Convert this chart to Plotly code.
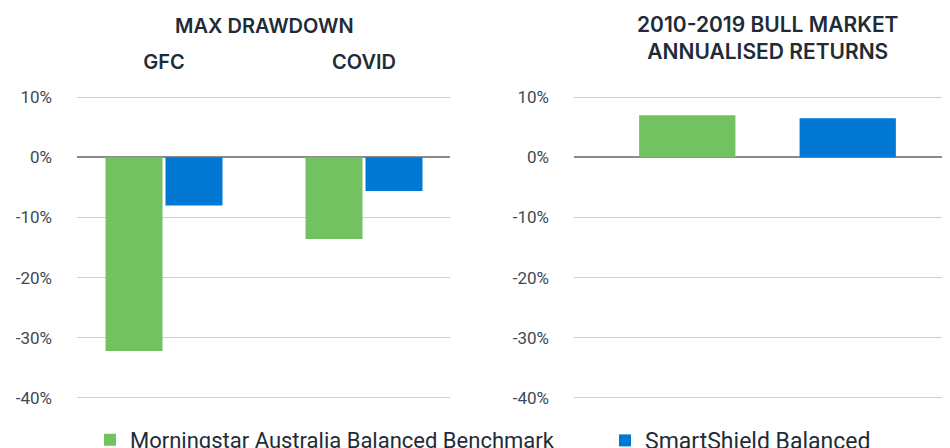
import plotly.graph_objects as go

# ---- data ----
drawdown_periods = ["GFC", "COVID"]
benchmark_drawdown = [-32.2, -13.6]
smartshield_drawdown = [-8.0, -5.6]

bull_positions = [0, 1]
bull_benchmark = [7.0]
bull_smartshield = [6.5]

series_names = ["Morningstar Australia Balanced Benchmark", "SmartShield Balanced"]
y_ticks = [10, 0, -10, -20, -30, -40]
y_tick_labels = ["10%", "0%", "-10%", "-20%", "-30%", "-40%"]

GREEN = "#74C162"
BLUE = "#0078D4"
TITLE_C = "#1f2c37"
TICK_C = "#3d4a55"

# page body has an 8px margin: figure is offset by 8px
OFF = 8
W, H = 950 - OFF, 448 - OFF
T, B = 88, 49
PH = H - T - B


def fx(xw):
    return (xw - OFF) / W


def fy(yw):
    return (H - B - (yw - OFF)) / PH


fig = go.Figure()

fig.add_trace(go.Bar(x=drawdown_periods, y=benchmark_drawdown, name=series_names[0],
                     marker=dict(color=GREEN, line=dict(width=0)), xaxis="x", yaxis="y",
                     legend="legend"))
fig.add_trace(go.Bar(x=drawdown_periods, y=smartshield_drawdown, name=series_names[1],
                     marker=dict(color=BLUE, line=dict(width=0)), xaxis="x", yaxis="y",
                     legend="legend2"))

fig.add_trace(go.Bar(x=bull_positions[:1], y=bull_benchmark, name=series_names[0], showlegend=False,
                     offsetgroup="r", width=0.6,
                     marker=dict(color=GREEN, line=dict(width=0)), xaxis="x2", yaxis="y2"))
fig.add_trace(go.Bar(x=bull_positions[1:], y=bull_smartshield, name=series_names[1], showlegend=False,
                     offsetgroup="r", width=0.6,
                     marker=dict(color=BLUE, line=dict(width=0)), xaxis="x2", yaxis="y2"))

yaxis_common = dict(
    range=[-40.2, 10.2], tickvals=y_ticks, ticktext=y_tick_labels,
    showgrid=True, gridcolor="#cfcfcf", gridwidth=1.3,
    zeroline=True, zerolinecolor="#8a8a8a", zerolinewidth=1.6,
    showline=False, ticks="", ticklabelstandoff=24,
    tickfont=dict(family="Roboto", size=17, color=TICK_C),
)

legend_common = dict(orientation="h", xanchor="left", yref="container", y=0.066, yanchor="top",
                     itemclick=False, itemdoubleclick=False, bgcolor="rgba(0,0,0,0)")

title_font = dict(family="Inter", size=20, color=TITLE_C, weight=600)
title_font_r = dict(family="Inter", size=21, color=TITLE_C, weight=600)

fig.update_layout(
    width=W, height=H,
    margin=dict(l=0, r=0, t=T, b=B),
    paper_bgcolor="white", plot_bgcolor="white",
    barmode="group", bargap=0.4, bargroupgap=0.05,
    xaxis=dict(domain=[fx(77), fx(450)], type="category", range=[-0.435, 1.43],
               side="top", showgrid=False, zeroline=False, showline=False, ticks="",
               ticklabelstandoff=22, tickfont=title_font, anchor="y"),
    yaxis=dict(domain=[0, 1], anchor="x", **yaxis_common),
    xaxis2=dict(domain=[fx(574), 1.0], range=[-0.706, 1.6375], showticklabels=False,
                showgrid=False, zeroline=False, showline=False, ticks="", anchor="y2"),
    yaxis2=dict(domain=[0, 1], anchor="x2", **yaxis_common),
    legend=dict(x=(90 - OFF) / W, font=dict(family="Roboto", size=22, color=TITLE_C), **legend_common),
    legend2=dict(x=(605 - OFF) / W, font=dict(family="Roboto", size=23, color=TITLE_C), **legend_common),
    annotations=[
        dict(text="MAX DRAWDOWN", xref="paper", yref="paper", x=fx(264), y=fy(26),
             xanchor="center", yanchor="middle", showarrow=False, font=title_font),
        dict(text="2010-2019 BULL MARKET<br>ANNUALISED RETURNS", xref="paper", yref="paper",
             x=fx(767), y=fy(38), xanchor="center", yanchor="middle", showarrow=False,
             font=title_font_r),
    ],
)

fig.write_html("out.html")
